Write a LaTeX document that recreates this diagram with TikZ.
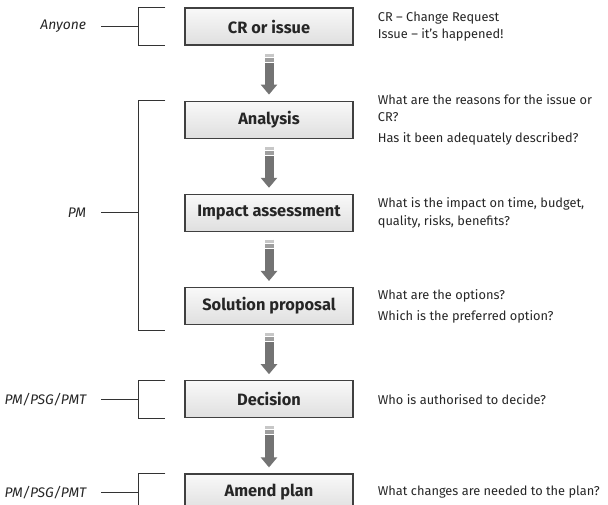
\documentclass[tikz,border=0pt]{standalone}
\usepackage{fontspec}
\setmainfont{Fira Sans}
\usetikzlibrary{arrows.meta, positioning}

\begin{document}
\begin{tikzpicture}[x=0.75pt, y=-0.75pt,
  font=\fontsize{9.6}{13.2}\selectfont, node distance=41.25pt,
  stage/.style={rectangle, draw=black!75, line width=0.9pt, minimum width=126pt,
            minimum height=27.75pt, top color=gray!5, bottom color=gray!25,
            text=black!85, font=\fontsize{12.3}{14}\selectfont\bfseries},
  note/.style={inner sep=0pt, align=left, text=black!85},
  who/.style={inner sep=0pt, text=black!85, font=\fontsize{10.4}{13}\selectfont\itshape},
  brk/.style={draw=black!80, line width=0.6pt},
  flow/.style={line width=6.75pt, draw=black!55, -{Triangle[width=12pt, length=7.5pt]},
            shorten <=6pt, shorten >=4.5pt,
            postaction={draw=black!22, arrows=-, dash pattern=on 2.25pt off 300pt},
            postaction={draw=black!38, arrows=-, dash pattern=on 0pt off 3pt on 3pt off 300pt},
            postaction={draw=white, arrows=-, dash pattern=on 0pt off 2.25pt on 0.75pt off 3pt on 0.75pt off 300pt}}]
\useasboundingbox (0,0) rectangle (608,505);
% process steps
\node[stage] (cr) at (269,26.5) {CR or issue};
\node[stage, below=of cr] (ana) {Analysis};
\node[stage, below=of ana] (imp) {Impact assessment};
\node[stage, below=of imp] (sol) {Solution proposal};
\node[stage, below=of sol] (dec) {Decision};
\node[stage, below=of dec] (amd) {Amend plan};
\draw[flow] (cr) -- (ana); \draw[flow] (ana) -- (imp); \draw[flow] (imp) -- (sol);
\draw[flow] (sol) -- (dec); \draw[flow] (dec) -- (amd);
% notes on the right
\node[note, right=18pt of cr] (n1) {CR – Change Request\\Issue – it’s happened!};
\node[note, right=18pt of ana] (n2) {What are the reasons for the issue or\\CR?\\[2.5pt]Has it been adequately described?};
\node[note, right=18pt of imp] (n3) {What is the impact on time, budget,\\quality, risks, benefits?};
\node[note, right=18pt of sol] (n4) {What are the options?\\[2.5pt]Which is the preferred option?};
\node[note, right=18pt of dec] (n5) {Who is authorised to decide?};
\node[note, right=18pt of amd] (n6) {What changes are needed to the plan?};
% who is responsible
\coordinate[left=34.5pt of cr.west] (k1);
\coordinate[left=34.5pt of imp.west] (k2);
\coordinate[left=34.5pt of dec.west] (k3);
\coordinate[left=34.5pt of amd.west] (k4);
\draw[brk] ([xshift=-14.25pt]cr.north west) -| (k1) |- ([xshift=-14.25pt]cr.south west);
\draw[brk] ([xshift=-14.25pt]ana.north west) -| (k2) |- ([xshift=-14.25pt,yshift=-3.75pt]sol.south west);
\draw[brk] ([xshift=-14.25pt]dec.north west) -| (k3) |- ([xshift=-14.25pt]dec.south west);
\draw[brk] ([xshift=-14.25pt]amd.north west) -| (k4) |- ([xshift=-14.25pt]amd.south west);
\node[who, left=39pt of k1] (w1) {Anyone};
\node[who, left=39pt of k2] (w2) {PM};
\node[who, left=39pt of k3] (w3) {PM/PSG/PMT};
\node[who, left=39pt of k4] (w4) {PM/PSG/PMT};
\draw[brk] (k1) -- ([xshift=11.25pt]w1.east);
\draw[brk] (k2) -- ([xshift=11.25pt]w2.east);
\draw[brk] (k3) -- ([xshift=11.25pt]w3.east);
\draw[brk] (k4) -- ([xshift=11.25pt]w4.east);
\end{tikzpicture}
\end{document}
